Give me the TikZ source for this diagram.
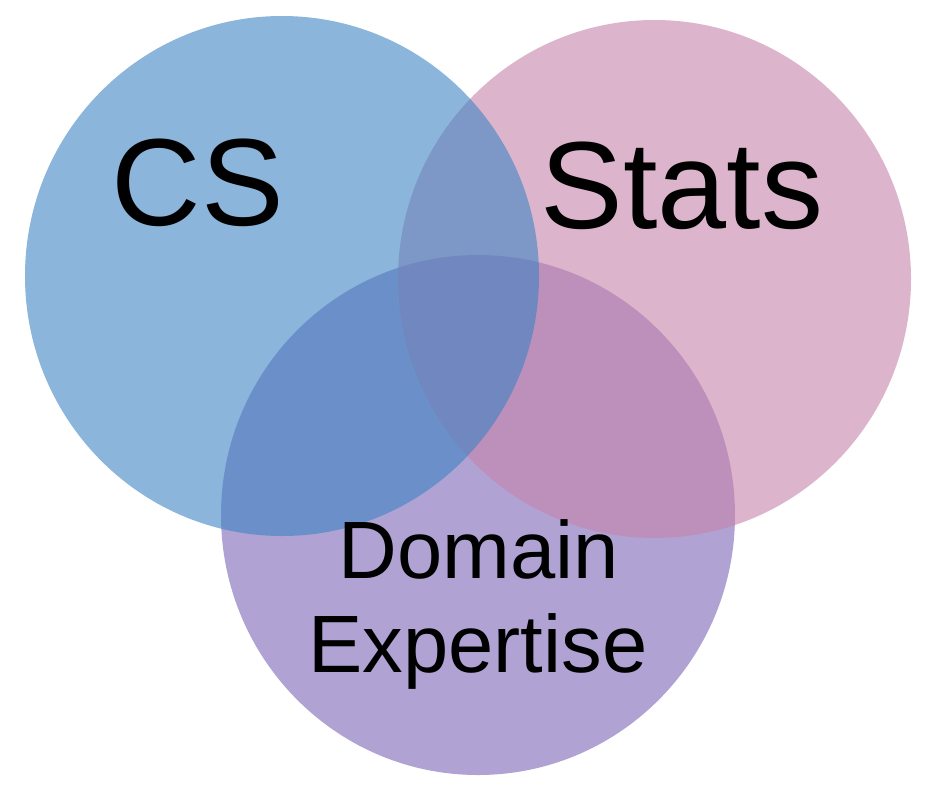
\documentclass[tikz,border=0pt]{standalone}
\usepackage{fontspec}
\setmainfont{Liberation Sans}
\definecolor{csblue}{RGB}{62,132,195}
\definecolor{statpink}{RGB}{197,132,170}
\definecolor{dompurple}{RGB}{123,102,183}
\tikzset{
  venn/.style={fill opacity=0.6, draw=none},
  bigtext/.style={font=\fontsize{93}{93}\selectfont, inner sep=0pt, anchor=base},
  domtext/.style={font=\fontsize{61}{70.5}\selectfont, inner sep=0pt, anchor=base},
}
\begin{document}
\begin{tikzpicture}[x=0.75pt,y=-0.75pt]
\useasboundingbox (0,0) rectangle (935,800);
\fill[venn, dompurple] (478,515) ellipse [x radius=257, y radius=260];
\fill[venn, statpink] (654.5,279) ellipse [x radius=256.5, y radius=259];
\fill[venn, csblue] (282,276) ellipse [x radius=257, y radius=260];
\node[bigtext] (cs) at (198,225) {CS};
\node[bigtext] (stats) at (682,228) {Stats};
\node[domtext] (dom) at (479,578) {Domain};
\node[domtext] (exp) at (478,672) {Expertise};
\end{tikzpicture}
\end{document}
